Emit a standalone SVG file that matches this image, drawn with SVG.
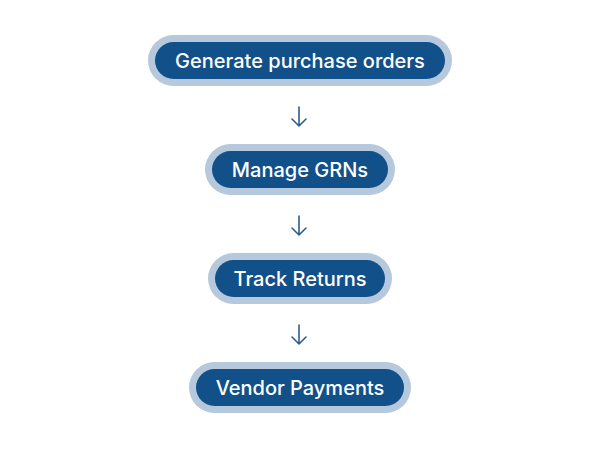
<svg xmlns="http://www.w3.org/2000/svg" width="600" height="450" viewBox="0 0 600 450">
<style>
.o{fill:#b6c9dc}
.i{fill:#125089}
.t{fill:#fff;font-family:Inter,"Open Sans",sans-serif;font-size:20px;font-weight:500;text-anchor:middle;dominant-baseline:central}
.c{stroke:#2c5c90;stroke-width:1.6;fill:none;stroke-linecap:round;stroke-linejoin:round}
</style>
<rect width="600" height="450" fill="#fff"/>
<g id="n1"><rect class="o" x="148" y="35" width="304" height="51" rx="25.5"/><rect class="i" x="155" y="42" width="290" height="37" rx="18.5"/><text class="t" x="300" y="60.5">Generate purchase orders</text></g>
<g id="n2"><rect class="o" x="205" y="144" width="190" height="51" rx="25.5"/><rect class="i" x="212" y="151" width="176" height="37" rx="18.5"/><text class="t" x="300" y="169.5">Manage GRNs</text></g>
<g id="n3"><rect class="o" x="208" y="253" width="184" height="51" rx="25.5"/><rect class="i" x="215" y="260" width="170" height="37" rx="18.5"/><text class="t" x="300" y="278.5">Track Returns</text></g>
<g id="n4"><rect class="o" x="189" y="362" width="222" height="51" rx="25.5"/><rect class="i" x="196" y="369" width="208" height="37" rx="18.5"/><text class="t" x="300" y="387.5">Vendor Payments</text></g>
<g id="connectors">
<path class="c" d="M299 107V126M292 119L299 126L306 119"/>
<path class="c" d="M299 216V235M292 228L299 235L306 228"/>
<path class="c" d="M299 325V344M292 337L299 344L306 337"/>
</g>
</svg>
